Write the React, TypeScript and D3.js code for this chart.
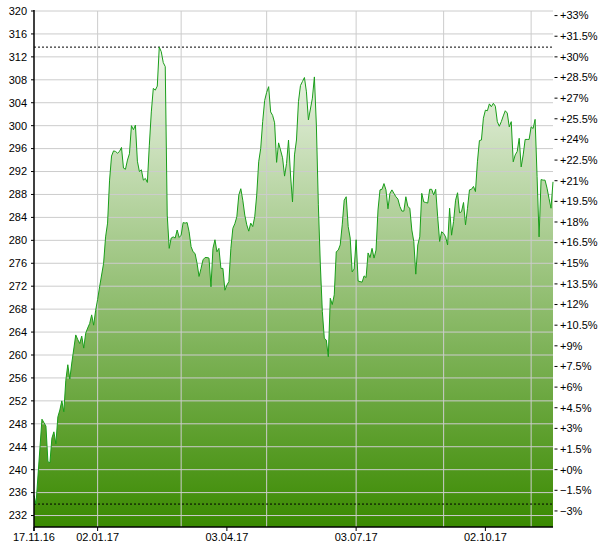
import React from 'react';
import * as d3 from 'd3';

// trading sessions (weekday index from 17.11.16) and closing prices
const sessions = [
  0, 1, 4, 5, 6, 7, 8, 9, 10, 11, 12, 13, 14, 15, 16, 17, 18, 19, 21, 22, 23, 24, 25, 26, 27, 28, 29, 30, 31, 32, 33, 35,
  36, 37, 38, 39, 40, 41, 42, 43, 44, 45, 46, 47, 48, 49, 50, 51, 52, 53, 54, 55, 56, 57, 58, 59, 60, 61, 62, 63, 64, 65,
  66, 67, 68, 69, 70, 71, 72, 73, 74, 75, 76, 77, 78, 79, 80, 81, 82, 83, 84, 85, 86, 87, 88, 89, 90, 91, 92, 93, 94, 95,
  96, 97, 98, 99, 100, 101, 102, 103, 104, 105, 106, 107, 108, 109, 110, 111, 112, 113, 114, 115, 116, 117, 118, 119, 120,
  121, 122, 123, 125, 126, 127, 128, 129, 130, 131, 132, 133, 134, 135, 136, 137, 138, 140, 141, 142, 143, 144, 145, 146,
  147, 148, 149, 150, 151, 152, 153, 154, 155, 156, 157, 158, 159, 160, 161, 162, 163, 165, 166, 167, 168, 169, 170, 171,
  172, 173, 174, 175, 176, 177, 178, 179, 180, 181, 182, 183, 184, 185, 186, 187, 188, 189, 190, 191, 192, 193, 194, 195,
  196, 197, 198, 199, 200, 201, 202, 203, 204, 205, 206, 207, 208, 209, 210, 211, 212, 213, 214, 215, 216, 217, 218, 219,
  220, 221, 222, 223, 224, 225, 226, 227, 228, 229, 230, 231, 232, 233, 234, 235, 236, 237, 238, 239, 240, 241, 242, 243,
  244, 245, 246, 247, 248, 249, 250, 251, 252, 253, 254, 255, 256, 257, 258, 259, 260, 261,
];
const closes = [
  235.5, 234.0, 248.8, 248.2, 247.6, 241.4, 241.2, 245.5, 246.6, 244.5, 249.2, 250.4, 252.0, 250.1, 255.6, 258.3, 255.8,
  258.6, 263.5, 262.7, 262.0, 263.3, 261.2, 263.8, 264.7, 265.5, 267.0, 265.2, 267.8, 269.7, 271.9, 276.0,
  280.6, 283.0, 290.5, 294.7, 295.6, 295.5, 295.2, 295.5, 296.2, 292.6, 292.4, 294.0, 295.1, 300.0, 299.3, 300.1, 293.8,
  292.0, 292.3, 290.5, 290.8, 290.1, 296.6, 302.4, 306.5, 306.2, 306.9, 313.7, 312.9, 311.0,
  310.3, 284.4, 278.6, 280.4, 280.6, 280.4, 281.8, 280.5, 280.9, 283.1, 283.0, 283.1, 281.5, 278.9, 278.0, 277.7, 276.0,
  273.7, 275.1, 276.6, 277.0, 277.0, 276.9, 271.9, 278.6, 280.1, 278.0, 278.6, 275.1, 275.1,
  271.3, 272.2, 272.8, 278.6, 282.1, 282.9, 284.1, 287.9, 289.0, 287.0, 284.4, 282.7, 281.6, 283.0, 282.4, 284.1, 287.9,
  293.7, 296.0, 300.7, 304.4, 305.8, 306.8, 302.4, 301.8,
  300.5, 293.6, 297.0, 294.4, 291.2, 293.4, 297.5, 291.4, 286.7, 294.9, 297.5, 304.2, 307.0, 307.7, 308.4, 305.9, 301.0,
  304.8, 308.5, 300.1, 286.2, 275.7, 267.6, 262.9,
  262.6, 259.7, 269.9, 268.8, 270.5, 278.0, 278.3, 279.2, 282.7, 287.0, 287.6, 282.4, 280.4, 274.5, 275.0, 280.1, 272.9,
  272.7, 273.8, 273.5, 277.8, 277.0, 278.6, 276.9,
  278.3, 285.3, 288.8, 288.9, 289.9, 288.8, 285.5, 288.2, 288.8, 288.2, 287.6, 287.2, 285.9, 285.1, 285.1, 287.6, 285.9,
  285.6, 281.8, 279.8, 274.1, 279.2, 280.6, 288.2,
  286.7, 286.6, 286.5, 288.9, 288.9, 287.9, 288.9, 284.1, 279.8, 281.5, 281.2, 280.6, 279.2, 285.6, 280.9, 283.3, 287.0,
  288.3, 284.8, 285.0, 286.6, 282.7, 285.6, 288.8,
  288.9, 289.4, 288.5, 293.7, 297.4, 297.5, 301.3, 302.7, 302.6, 303.8, 303.3, 303.9, 303.4, 300.7, 299.9, 300.7, 301.7,
  302.6, 302.2, 299.8, 300.7, 293.7, 294.9, 295.5,
  297.8, 292.8, 294.9, 297.6, 297.6, 297.6, 299.8, 299.5, 301.1, 291.1, 280.6, 290.6, 290.5, 290.5, 289.1, 287.3, 285.6, 290.2,
];

const priceTicks = d3.range(232, 321, 4);
const baseValue = 240;
const percentTicks = d3.range(-3, 33.1, 1.5);
const labelDates = ['17.11.16', '02.01.17', '03.04.17', '03.07.17', '02.10.17'];
const gridDates = ['02.01.17', '01.03.17', '01.05.17', '03.07.17', '01.09.17', '02.11.17'];

const fmt = d3.timeFormat('%d.%m.%y');
const days = d3.timeDay
  .range(new Date(2016, 10, 17), new Date(2017, 10, 18))
  .filter((d) => d.getDay() % 6 !== 0)
  .map(fmt);

const W = 600;
const H = 550;
const left = 34;
const right = 553;
const top = 11;
const bottom = 527;
const font = 'Arial, "Liberation Sans", sans-serif';

export default function App() {
  const x = d3.scaleLinear().domain([0, days.length - 1]).range([left, right]);
  const y = d3.scaleLinear().domain([230, 320]).range([bottom, top]);
  const pts = sessions.map((s, i) => [s, closes[i]] as [number, number]);

  const area = d3
    .area<[number, number]>()
    .x((d) => x(d[0]))
    .y0(bottom)
    .y1((d) => y(d[1]));
  const line = d3
    .line<[number, number]>()
    .x((d) => x(d[0]))
    .y((d) => y(d[1]));

  const hi = d3.max(closes) as number;
  const lo = d3.min(closes) as number;

  return (
    <svg width={W} height={H} style={{ position: 'absolute', left: 0, top: 0, background: '#fff' }} fontFamily={font}>
      <defs>
        <linearGradient id="fillGrad" gradientUnits="userSpaceOnUse" x1={0} y1={top} x2={0} y2={bottom}>
          <stop offset="0%" stopColor="#ffffff" />
          <stop offset="100%" stopColor="#3a8a00" />
        </linearGradient>
      </defs>

      <path d={area(pts) || ''} fill="url(#fillGrad)" />

      {priceTicks.map((t) => (
        <line key={'h' + t} x1={left} x2={right} y1={y(t)} y2={y(t)} stroke="#cccccc" strokeWidth={1} />
      ))}
      {gridDates.map((d) => {
        const xi = x(days.indexOf(d));
        return <line key={'v' + d} x1={xi} x2={xi} y1={top} y2={bottom} stroke="#cccccc" strokeWidth={1} />;
      })}

      <line x1={left} x2={right} y1={y(hi)} y2={y(hi)} stroke="#000" strokeDasharray="2,2" strokeWidth={1} />
      <line x1={left} x2={right} y1={y(lo)} y2={y(lo)} stroke="#000" strokeDasharray="2,2" strokeWidth={1} />

      <path d={line(pts) || ''} fill="none" stroke="#1a9e1a" strokeWidth={1} />

      <line x1={left} x2={left} y1={top - 1} y2={bottom + 4} stroke="#000" strokeWidth={1.5} />
      <line x1={left} x2={right} y1={bottom} y2={bottom} stroke="#000" strokeWidth={1.5} />

      {priceTicks.map((t) => (
        <g key={'l' + t}>
          <line x1={left - 3} x2={left} y1={y(t)} y2={y(t)} stroke="#000" />
          <text x={27} y={y(t)} dy="0.35em" textAnchor="end" fontSize={11} fill="#000">
            {t}
          </text>
        </g>
      ))}

      {percentTicks.map((p) => {
        const yy = y(baseValue * (1 + p / 100));
        const label = (p >= 0 ? '+' : '') + d3.format('~g')(+p.toFixed(1)) + '%';
        return (
          <g key={'r' + p}>
            <line x1={554.5} x2={557.5} y1={yy} y2={yy} stroke="#000" />
            <text x={560} y={yy} dy="0.35em" fontSize={11} fill="#000">
              {label}
            </text>
          </g>
        );
      })}

      {labelDates.map((d) => {
        const xi = x(days.indexOf(d));
        return (
          <g key={'b' + d}>
            <line x1={xi} x2={xi} y1={bottom} y2={bottom + 4} stroke="#000" />
            <text x={xi} y={541} textAnchor="middle" fontSize={11} fill="#000">
              {d}
            </text>
          </g>
        );
      })}
    </svg>
  );
}
